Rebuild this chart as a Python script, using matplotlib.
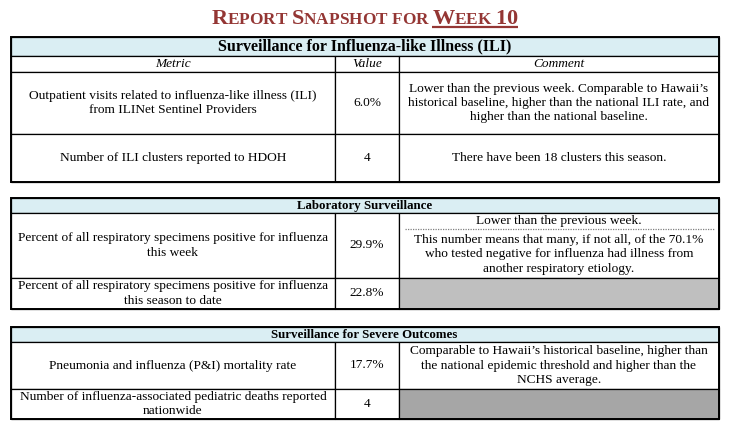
import matplotlib
matplotlib.use("Agg")
import matplotlib.pyplot as plt
from matplotlib.patches import Rectangle

plt.rcParams['font.family'] = ['Liberation Serif', 'DejaVu Serif']

title_words = ["Report", "Snapshot", "for", "Week 10"]
title_caps = [True, True, False, True]

ili_header = "Surveillance for Influenza-like Illness (ILI)"
col_names = ["Metric", "Value", "Comment"]
ili_metrics = ["Outpatient visits related to influenza-like illness (ILI)\nfrom ILINet Sentinel Providers",
               "Number of ILI clusters reported to HDOH"]
ili_values = ["6.0%", "4"]
ili_comments = ["Lower than the previous week. Comparable to Hawaii\u2019s\nhistorical baseline, higher than the national ILI rate, and\nhigher than the national baseline.",
                "There have been 18 clusters this season."]

lab_header = "Laboratory Surveillance"
lab_metrics = ["Percent of all respiratory specimens positive for influenza\nthis week",
               "Percent of all respiratory specimens positive for influenza\nthis season to date"]
lab_values = ["29.9%", "22.8%"]
lab_comment_top = "Lower than the previous week."
lab_comment_body = "This number means that many, if not all, of the 70.1%\nwho tested negative for influenza had illness from\nanother respiratory etiology."

sev_header = "Surveillance for Severe Outcomes"
sev_metrics = ["Pneumonia and influenza (P&I) mortality rate",
               "Number of influenza-associated pediatric deaths reported\nnationwide"]
sev_values = ["17.7%", "4"]
sev_comments = ["Comparable to Hawaii\u2019s historical baseline, higher than\nthe national epidemic threshold and higher than the\nNCHS average."]

W, H = 729, 437
fig = plt.figure(figsize=(W / 100, H / 100), dpi=100)
ax = fig.add_axes([0, 0, 1, 1])
ax.set_xlim(0, W)
ax.set_ylim(H, 0)
ax.axis('off')

X0, X1, X2, X3 = 11, 335, 399, 719
BLUE = '#DAEEF3'
RED = '#943634'
FS = 9.65
LS = 1.26


def cell(y0, y1, x0=X0, x1=X3, fill='white'):
    ax.add_patch(Rectangle((x0, y0), x1 - x0, y1 - y0, facecolor=fill,
                           edgecolor='black', lw=0.9, zorder=1))


def txt(x, y, s, **kw):
    kw.setdefault('fontsize', FS)
    ax.text(x, y, s, ha='center', va='center', linespacing=LS, zorder=3, **kw)


def outline(y0, y1):
    ax.add_patch(Rectangle((X0, y0), X3 - X0, y1 - y0, facecolor='none',
                           edgecolor='black', lw=1.4, zorder=4))


cm = (X0 + X1) / 2
cv = (X1 + X2) / 2
cc = (X2 + X3) / 2

# --- title in small caps ---
fig.canvas.draw()
r = fig.canvas.get_renderer()
big, small = 16, 12.4
pieces = []
for wi, (word, cap) in enumerate(zip(title_words, title_caps)):
    for ch in word:
        if ch == ' ':
            pieces.append((' ', small, wi))
        elif ch.isupper() or ch.isdigit():
            pieces.append((ch.upper(), big if cap or ch.isdigit() else small, wi))
        else:
            pieces.append((ch.upper(), small, wi))
    if wi < len(title_words) - 1:
        pieces.append((' ', small, -1))

objs = []
for ch, size, wi in pieces:
    t = ax.text(0, 24, ch if ch != ' ' else '\u00a0', fontsize=size, color=RED,
                fontweight='bold', ha='left', va='baseline')
    objs.append((t, wi))
widths = []
for t, wi in objs:
    widths.append(t.get_window_extent(renderer=r).width)
total = sum(widths)
x = W / 2 - total / 2
ux0 = None
for (t, wi), w in zip(objs, widths):
    t.set_x(x)
    if wi == 3 and ux0 is None:
        ux0 = x
    x += w
ax.plot([ux0, x], [27, 27], color=RED, lw=1.6, solid_capstyle='butt')

# --- ILI table ---
cell(37, 56, fill=BLUE)
txt(W / 2, 46.5, ili_header, fontsize=11.5, fontweight='bold')
rows1 = [56, 72, 134, 182]
for i in range(3):
    ya, yb = rows1[i], rows1[i + 1]
    cell(ya, yb, X0, X1)
    cell(ya, yb, X1, X2)
    cell(ya, yb, X2, X3)
for name, xc in zip(col_names, [cm, cv, cc]):
    txt(xc, 64, name, style='italic')
for i in range(2):
    yc = (rows1[i + 1] + rows1[i + 2]) / 2
    txt(cm, yc, ili_metrics[i])
    txt(cv, yc, ili_values[i])
    txt(cc, yc, ili_comments[i])
outline(37, 182)

# --- Laboratory table ---
cell(198, 213, fill=BLUE)
txt(W / 2, 205.5, lab_header, fontsize=9.3, fontweight='bold')
rows2 = [213, 278, 309]
for i in range(2):
    ya, yb = rows2[i], rows2[i + 1]
    cell(ya, yb, X0, X1)
    cell(ya, yb, X1, X2)
    cell(ya, yb, X2, X3, fill='white' if i == 0 else '#BFBFBF')
    yc = (ya + yb) / 2
    txt(cm, yc, lab_metrics[i])
    txt(cv, yc, lab_values[i])
txt(cc, 221, lab_comment_top)
ax.plot([X2 + 6, X3 - 4], [229, 229], color='#808080', lw=0.9, ls=(0, (1, 1)), zorder=3)
txt(cc, 254.5, lab_comment_body)
outline(198, 309)

# --- Severe outcomes table ---
cell(327, 342, fill=BLUE)
txt(W / 2, 334.5, sev_header, fontsize=9.3, fontweight='bold')
rows3 = [342, 389, 419]
for i in range(2):
    ya, yb = rows3[i], rows3[i + 1]
    cell(ya, yb, X0, X1)
    cell(ya, yb, X1, X2)
    cell(ya, yb, X2, X3, fill='white' if i == 0 else '#A6A6A6')
    yc = (ya + yb) / 2
    txt(cm, yc, sev_metrics[i])
    txt(cv, yc, sev_values[i])
txt(cc, (rows3[0] + rows3[1]) / 2, sev_comments[0])
outline(327, 419)

fig.savefig('out.png', dpi=100)
